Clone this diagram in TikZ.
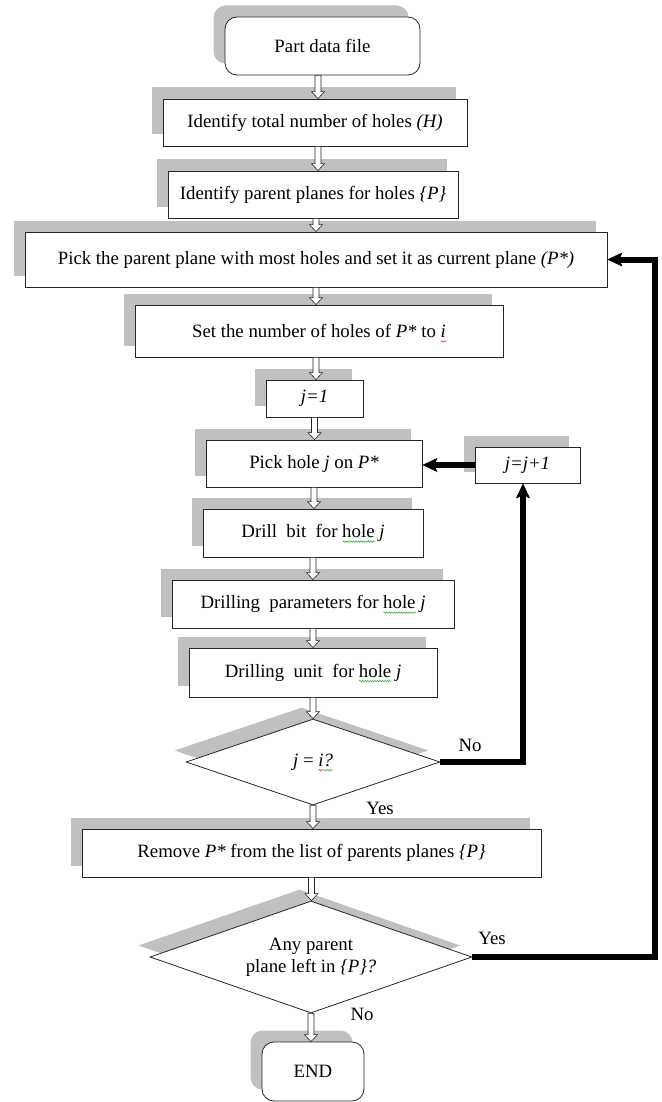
\documentclass[tikz,border=0pt]{standalone}
\usepackage{fontspec}
\setmainfont{Liberation Serif}
\usetikzlibrary{shapes.geometric,shadows,arrows.meta,calc,decorations.pathmorphing}
\definecolor{shadowgray}{RGB}{192,192,192}
\definecolor{wavegreen}{RGB}{60,170,60}
\definecolor{wavered}{RGB}{230,40,40}
\newsavebox{\wavebox}
\newcommand{\wavy}[2]{\sbox{\wavebox}{#2}\makebox[0pt][l]{\raisebox{-4pt}[0pt][0pt]{\tikz[x=1pt,y=1pt,baseline=0pt]\draw[#1,line width=0.5pt,decorate,decoration={snake,amplitude=0.8pt,segment length=2.5pt}] (0,0) -- (\wd\wavebox,0);}}\usebox{\wavebox}}
\newcommand{\gwave}[1]{\wavy{wavegreen}{#1}}
\newcommand{\rwave}[1]{\wavy{wavered}{#1}}
\begin{document}
\begin{tikzpicture}[x=1pt,y=-1pt,
 every node/.style={font=\fontsize{18.8}{22}\selectfont},
 shadowed/.style={general shadow={fill=shadowgray, shadow xshift=-11.5pt, shadow yshift=11.5pt}},
 procbox/.style={draw=black!85, line width=0.8pt, fill=white, inner sep=0pt, shadowed},
 termbox/.style={procbox, rounded corners=12pt},
 decision/.style={diamond, draw=black!85, line width=0.8pt, fill=white, inner sep=0pt, shadowed, align=center},
 flowarrow/.style={draw=black!85, line width=0.6pt, fill=white,
   to path={let \p1=(\tikztostart), \p2=(\tikztotarget) in
   (\x1-3pt,\y1) -- (\x1-3pt,\y2+7pt) -- (\x1-6.5pt,\y2+7pt) -- (\x1,\y2) -- (\x1+6.5pt,\y2+7pt) -- (\x1+3pt,\y2+7pt) -- (\x1+3pt,\y1) -- cycle}},
 loopline/.style={line width=6pt, -{Stealth[length=15pt,width=14pt,inset=3pt,line width=0.5pt]}},
 lbl/.style={font=\fontsize{18.8}{22}\selectfont}
]
\useasboundingbox (0,0) rectangle (661,1102);

\node[termbox, minimum width=195pt, minimum height=58pt] (start) at (322.5,46) {Part data file};
\node[procbox, minimum width=304pt, minimum height=47pt] (holes) at (315,122.5) {Identify total number of holes \textit{(H)}};
\node[procbox, minimum width=290pt, minimum height=47pt] (planes) at (313,194.5) {Identify parent planes for holes \textit{\{P\}}};
\node[procbox, minimum width=582pt, minimum height=55pt] (pick) at (316,259.5) {Pick the parent plane with most holes and set it as current plane \textit{(P*)}};
\node[procbox, minimum width=368pt, minimum height=52pt] (setn) at (319,331) {Set the number of holes of \textit{P*} to \rwave{\textit{i}}};
\node[procbox, minimum width=97pt, minimum height=37pt] (jone) at (314.5,398.5) {\textit{j=1}};
\node[procbox, minimum width=216pt, minimum height=47pt] (pickhole) at (314,463.5) {Pick hole \textit{j} on \textit{P*}};
\node[procbox, minimum width=105pt, minimum height=36pt] (jinc) at (527.5,465) {\textit{j=j+1}};
\node[procbox, minimum width=220pt, minimum height=48pt] (bit) at (313,533) {Drill~ bit~ for \gwave{hole} \textit{j}};
\node[procbox, minimum width=282pt, minimum height=48pt] (param) at (313,604) {Drilling~ parameters for \gwave{hole} \textit{j}};
\node[procbox, minimum width=248pt, minimum height=49pt] (unit) at (313,672.5) {Drilling~ unit~ for \gwave{hole} \textit{j}};
\node[decision, minimum width=254pt, minimum height=86pt, aspect=2.95] (check) at (313,762) {\textit{j} = \rwave{\textit{i}}\gwave{\textit{?}}};
\node[procbox, minimum width=459pt, minimum height=48pt] (remove) at (311.5,853) {Remove \textit{P*} from the list of parents planes \textit{\{P\}}};
\node[decision, minimum width=322pt, minimum height=112pt, aspect=2.9] (left) at (311,957) {Any parent\\plane left in \textit{\{P\}?}};
\node[termbox, minimum width=102pt, minimum height=59pt] (end) at (313,1071.5) {END};

\path[flowarrow] ([xshift=-4.5pt]start.south) to (holes.north);
\path[flowarrow] ([xshift=3pt]holes.south) to (planes.north);
\path[flowarrow] ([xshift=3pt]planes.south) to (pick.north);
\path[flowarrow] (pick.south) to (setn.north);
\path[flowarrow] ([xshift=-3pt]setn.south) to (jone.north);
\path[flowarrow] (jone.south) to (pickhole.north);
\path[flowarrow] (pickhole.south) to (bit.north);
\path[flowarrow] (bit.south) to (param.north);
\path[flowarrow] (param.south) to (unit.north);
\path[flowarrow] (unit.south) to (check.north);
\path[flowarrow] (check.south) to (remove.north);
\path[flowarrow] (remove.south) to (left.north);
\path[flowarrow] (left.south) to (end.north);

\coordinate (railA) at (523,0);
\coordinate (railB) at (655,0);
\draw[loopline] (check.east) -- (check.east -| railA) -- (jinc.south -| railA);
\draw[loopline] (jinc.west) -- (jinc.west -| pickhole.east);
\draw[loopline] (left.east) -- (left.east -| railB) -- (pick.east -| railB) -- (pick.east);

\node[lbl] (no1) at (470,745) {No};
\node[lbl] (yes1) at (380,808) {Yes};
\node[lbl] (yes2) at (492,938) {Yes};
\node[lbl] (no2) at (362,1014) {No};
\end{tikzpicture}
\end{document}
